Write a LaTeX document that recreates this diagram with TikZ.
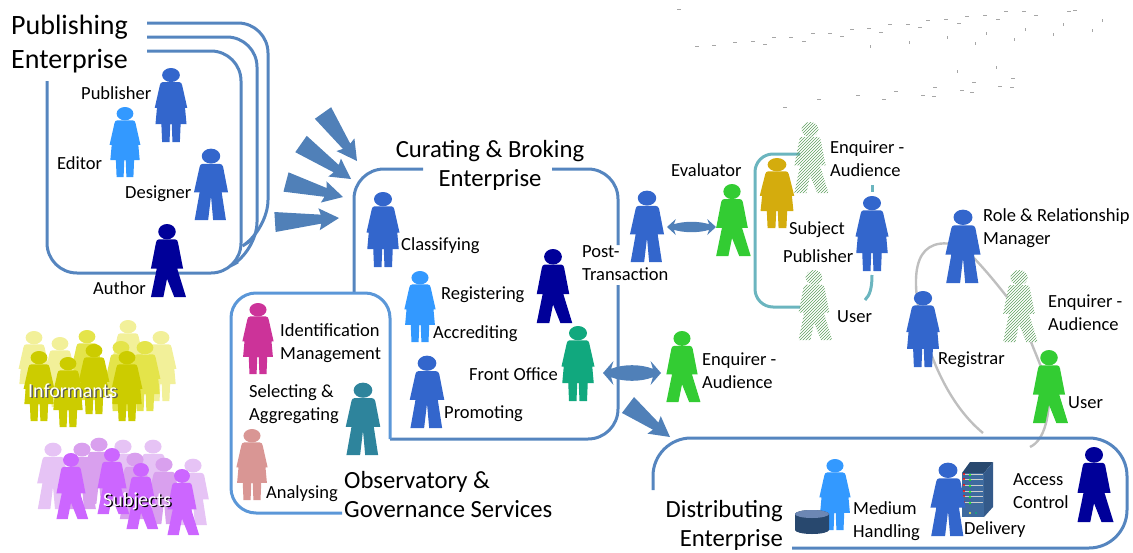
\documentclass[tikz,border=0pt]{standalone}
\usepackage{fontspec}
\setmainfont{Carlito}
\usetikzlibrary{calc,patterns,backgrounds}

\definecolor{figblue}{HTML}{3366CC}
\definecolor{figlight}{HTML}{3399FF}
\definecolor{fignavy}{HTML}{000099}
\definecolor{figgreen}{HTML}{33CC33}
\definecolor{figgold}{HTML}{D4AC0D}
\definecolor{figmagenta}{HTML}{CC3399}
\definecolor{figteal}{HTML}{2E849C}
\definecolor{figpink}{HTML}{D99694}
\definecolor{figsea}{HTML}{11A87E}
\definecolor{hatchgreen}{HTML}{5FA05F}
\definecolor{yellowa}{HTML}{F2F099}
\definecolor{yellowb}{HTML}{E4E44A}
\definecolor{yellowc}{HTML}{CCCC00}
\definecolor{purplea}{HTML}{E6C3F5}
\definecolor{purpleb}{HTML}{D9A0EE}
\definecolor{purplec}{HTML}{CC66FF}
\definecolor{frameblue}{HTML}{5585BF}
\definecolor{obsblue}{HTML}{5B97D8}
\definecolor{frameteal}{HTML}{6BB5BF}
\definecolor{curvegrey}{HTML}{BFBFBF}
\definecolor{wedgeblue}{HTML}{5080B8}
\definecolor{serverfront}{HTML}{3E6A9E}
\definecolor{serverside}{HTML}{345A8A}
\definecolor{servertop}{HTML}{28486E}

\tikzset{
  pics/woman/.style = {code = {
    \coordinate (-c) at (0,50);
    \path[#1] (0,9.5) ellipse [x radius=12, y radius=9.5];
    \path[#1] (-11,19) -- (11,19) to[out=0,in=100] (15,23) -- (22,54) -- (19,54) -- (21,76) -- (13,76) -- (12,100) -- (2,100) -- (1,76) -- (-1,76) -- (-2,100) -- (-12,100) -- (-13,76) -- (-21,76) -- (-19,54) -- (-22,54) -- (-15,23) to[out=80,in=180] cycle;
  }},
  pics/man/.style = {code = {
    \coordinate (-c) at (0,50);
    \path[#1] (0,10) ellipse [x radius=13, y radius=10.5];
    \path[#1] (-12,21) -- (12,21) to[out=0,in=100] (17,25) -- (24,61) -- (15,61) -- (21,100) -- (3,100) -- (0,66) -- (-4,100) -- (-23,100) -- (-16,61) -- (-24,61) -- (-16,25) to[out=80,in=180] cycle;
  }},
  pics/walker/.style = {code = {
    \coordinate (-c) at (0,50);
    \path[#1] (0,10.5) ellipse [x radius=12, y radius=10.5];
    \path[#1] (-11,21) -- (11,21) to[out=0,in=100] (15,25) -- (22,61) -- (14,61) -- (26,100) -- (10,100) -- (0,75) -- (-5,100) -- (-22,100) -- (-14,61) -- (-22,61) -- (-15,25) to[out=80,in=180] cycle;
  }},
  pics/lens/.style = {code = {
    \fill[wedgeblue] (0,0) -- (18,-1) -- (14,-.35) .. controls (35,-.75) and (65,-.75) .. (86,-.35) -- (82,-1) -- (100,0) -- (82,1) -- (86,.35) .. controls (65,.75) and (35,.75) .. (14,.35) -- (18,1) -- cycle;
  }},
  hatched/.style = {pattern=north east lines, pattern color=hatchgreen},
  lbl/.style = {anchor=base west, inner sep=0pt, align=left, font=\fontsize{18.5}{22.5}\selectfont},
  biglbl/.style = {inner sep=0pt, font=\fontsize{24.7}{29}\selectfont},
  grouplbl/.style = {anchor=base west, inner sep=0pt, font=\fontsize{20}{24}\selectfont},
  frame/.style = {draw=frameblue, line width=3pt, rounded corners=#1},
  frame/.default = 30pt,
  curve/.style = {draw=curvegrey, line width=2.4pt}
}

\newcommand{\wedgearrow}[2]{
  \fill[wedgeblue] ($(#1)!10pt!90:(#2)$) -- ($($(#2)!18pt!(#1)$)!4.5pt!-90:(#1)$) -- ($($(#2)!20pt!(#1)$)!11pt!-90:(#1)$) -- (#2) -- ($($(#2)!20pt!(#1)$)!11pt!90:(#1)$) -- ($($(#2)!18pt!(#1)$)!4.5pt!90:(#1)$) -- ($(#1)!10pt!-90:(#2)$) -- cycle;
}

\begin{document}
\begin{tikzpicture}[x=1pt, y=-1pt]
\useasboundingbox (0,0) rectangle (1133,552);

% scattered marks, top right
\foreach \x/\y in {677/9,695/46,712/45,733/42,751/41,763/44,772/37,789/37,802/41,811/33,828/33,840/36,850/29,867/28,879/32,888/24,906/24,918/27,926/20,944/19,957/23,965/16,983/15,996/19,1004/11,1022/11,1034/15,1067/11,1073/10,783/107,817/99,856/95,882/99,894/91,921/95,933/87,932/96,960/90,972/82,970/92,998/86,1011/78,1010/87}
  \draw[gray!70, line width=.7pt] (\x,\y) -- ++(4,0);
\foreach \x/\y in {870/45,909/41,947/36,975/42,986/32,1014/38,1025/28,1053/33,1063/23,1092/29,1102/19,957/70,996/66}
  \draw[gray!70, line width=.7pt] (\x,\y) -- ++(0,3);

% Publishing
\coordinate (pubA) at (147,23);
\coordinate (pubB) at (147,37);
\coordinate (pubC) at (147,51);
\coordinate (pubD) at (47,81);
\draw[frame] (pubA) -| (268,230) -- (252,240);
\draw[frame] (pubB) -| (257,252) -- (238,262);
\draw[frame] (pubC) -| (241,273) -| (pubD);
\pic (publisher) [scale=.74] at (171,68) {woman={fill=figblue}};
\pic (editor) [scale=.70] at (125,107) {woman={fill=figlight}};
\pic (designer) [scale=.71] at (211,149) {man={fill=figblue}};
\pic (author) [scale=.73] at (167,224) {walker={fill=fignavy}};
\node[lbl, font=\fontsize{28}{34}\selectfont] (publishing) at (11,68) {Publishing\\Enterprise};
\node[lbl] (publisherl) at (81,99) {Publisher};
\node[lbl] (editorl) at (57,169) {Editor};
\node[lbl] (designerl) at (125,198) {Designer};
\node[lbl] (authorl) at (93,294) {Author};

\coordinate (wedgeAs) at (275,222);
\coordinate (wedgeAe) at (339,218);
\coordinate (wedgeBs) at (286,182);
\coordinate (wedgeBe) at (343,197);
\coordinate (wedgeCs) at (301,144);
\coordinate (wedgeCe) at (351,179);
\coordinate (wedgeDs) at (323,113);
\coordinate (wedgeDe) at (357,161);
\wedgearrow{wedgeAs}{wedgeAe}
\wedgearrow{wedgeBs}{wedgeBe}
\wedgearrow{wedgeCs}{wedgeCe}
\wedgearrow{wedgeDs}{wedgeDe}

% Curating
\coordinate (curA) at (423,169);
\coordinate (curB) at (354,293);
\coordinate (curC) at (552,169);
\coordinate (curD) at (618,245);
\coordinate (curE) at (618,285);
\coordinate (curF) at (390,439);
\draw[frame] (curA) -| (curB);
\draw[frame] (curC) -| (curD);
\draw[frame] (curE) |- (curF);
\pic (classifying) [scale=.75] at (383,192) {woman={fill=figblue}};
\pic (registering) [scale=.71] at (420,271) {woman={fill=figlight}};
\pic (accrediting) [scale=.74] at (553,249) {walker={fill=fignavy}};
\pic (frontoffice) [scale=.75] at (578,326) {woman={fill=figsea}};
\pic (promoting) [scale=.72] at (427,356) {man={fill=figblue}};
\node[biglbl, anchor=base, align=center] (curating) at (490,186) {Curating \& Broking\\Enterprise};
\node[lbl] (classifyingl) at (401,250) {Classifying};
\node[lbl] (registeringl) at (441,299) {Registering};
\node[lbl] (accreditingl) at (433,338) {Accrediting};
\node[lbl] (frontofficel) at (469,380) {Front Office};
\node[lbl] (promotingl) at (444,418) {Promoting};

% Observatory
\coordinate (obsA) at (342,513);
\coordinate (obsB) at (390,439);
\draw[frame=25pt, draw=obsblue] (obsA) -| (231,293) -| (obsB);
\pic (identification) [scale=.71] at (258,303) {woman={fill=figmagenta}};
\pic (selecting) [scale=.72] at (363,383) {man={fill=figteal}};
\pic (analysing) [scale=.71] at (252,429) {woman={fill=figpink}};
\node[lbl] (identificationl) at (280,359) {Identification\\Management};
\node[lbl] (selectingl) at (249,420) {Selecting \&\\Aggregating};
\node[lbl] (analysingl) at (266,498) {Analysing};
\node[biglbl, anchor=base west, align=left] (observatory) at (344,517) {Observatory \&\\Governance Services};

% Post-transaction and evaluator
\pic (posttrans) [scale=.71] at (647,191) {man={fill=figblue}};
\pic (evaluator) [scale=.72] at (732,184) {walker={fill=figgreen}};
\pic (evalarrow) [xscale=.49, yscale=8] at (667,227) {lens};
\node[lbl] (posttransl) at (582,280) {Post-\\Transaction};
\node[lbl] (evaluatorl) at (671,176) {Evaluator};

% Subject box
\coordinate (subA) at (800,154);
\coordinate (subB) at (800,307);
\coordinate (subC) at (872,185);
\coordinate (subD) at (872,192);
\coordinate (subE) at (872,275);
\coordinate (subF) at (865,300);
\draw[frame=18pt, draw=frameteal] (subA) -| (755,307) -- (subB);
\draw[draw=frameteal, line width=3pt] (subC) -- (subD);
\draw[draw=frameteal, line width=3pt] (subE) .. controls (872,288) and (870,295) .. (subF);
\pic (enquirerh) [scale=.71] at (810,122) {walker=hatched};
\pic (userh) [scale=.70] at (814,270) {walker=hatched};
\pic (subject) [scale=.70, xscale=1.12] at (777,158) {woman={fill=figgold}};
\pic (subpublisher) [scale=.75] at (872,196) {woman={fill=figblue}};
\node[lbl] (enquirerhl) at (830,176) {Enquirer -\\Audience};
\node[lbl] (subjectl) at (789,234) {Subject};
\node[lbl] (subpublisherl) at (783,262) {Publisher};
\node[lbl] (userhl) at (837,322) {User};

% Role manager group
\pic (rolemgr) [scale=.73] at (963,210) {man={fill=figblue}};
\pic (registrar) [scale=.76] at (923,291) {woman={fill=figblue}};
\pic (enquirerr) [scale=.72] at (1019,270) {walker=hatched};
\pic (userr) [scale=.73] at (1049,350) {walker={fill=figgreen}};
\coordinate (curveA) at (1007,297);
\coordinate (curveB) at (1031,342);
\coordinate (curveC) at (983,433);
\coordinate (curveD) at (1030,447);
\begin{scope}[on background layer]
\path[curve] (rolemgr-c) .. controls (915,232) and (908,270) .. (registrar-c);
\path[curve] (rolemgr-c) to[bend left=3] (curveA);
\path[curve] (curveB) -- (userr-c);
\path[curve] (registrar-c) .. controls (935,372) and (955,410) .. (curveC);
\path[curve] (userr-c) .. controls (1050,415) and (1045,440) .. (curveD);
\end{scope}
\node[lbl] (rolemgrl) at (983,244) {Role \& Relationship\\Manager};
\node[lbl] (registrarl) at (938,364) {Registrar};
\node[lbl] (enquirerrl) at (1048,330) {Enquirer -\\Audience};
\node[lbl] (userrl) at (1068,408) {User};

% Front office enquirer
\pic (enquirerg) [scale=.71] at (682,331) {walker={fill=figgreen}};
\pic (frontarrow) [xscale=.58, yscale=12] at (603,373) {lens};
\node[lbl] (enquirergl) at (702,388) {Enquirer -\\Audience};
\coordinate (wedgeEs) at (628,405);
\coordinate (wedgeEe) at (670,437);
\wedgearrow{wedgeEs}{wedgeEe}

% Distributing
\coordinate (disA) at (653,490);
\coordinate (disB) at (792,548);
\draw[frame=38pt] (disA) |- (1127,438) |- (disB);
\pic (medium) [scale=.71] at (835,459) {woman={fill=figlight}};
\shade[left color=servertop, middle color=figblue!55!white, right color=servertop] (795,514) -- (795,530) arc [start angle=180, end angle=0, x radius=17, y radius=4] -- (829,514) arc [start angle=0, end angle=-180, x radius=17, y radius=4] -- cycle;
\fill[servertop!60!figblue!70!white] (812,514) ellipse [x radius=17, y radius=4];
\fill[serverfront] (962,473) rectangle (984,517);
\fill[servertop] (962,473) -- (970,462) -- (993,462) -- (984,473) -- cycle;
\fill[serverside] (984,473) -- (993,462) -- (993,507) -- (984,517) -- cycle;
\foreach \y in {474,479,485,491,496,502} {
  \draw[white!80!black, line width=.8pt] (963,\y) -- (983,\y);
  \fill[red] (964,\y) circle [radius=1.1];
  \fill[green] (970,\y+1) circle [radius=1.1];
}
\fill[yellow!70!white] (970,513) circle [radius=1.2];
\fill[figsea] (976,513) circle [radius=1.2];
\pic (delivery) [scale=.73] at (948,463) {man={fill=figblue}};
\pic (access) [scale=.75] at (1094,447) {walker={fill=fignavy}};
\node[biglbl, anchor=base east, align=right] (distributing) at (783,546) {Distributing\\Enterprise};
\node[lbl] (mediuml) at (853,537) {Medium\\Handling};
\node[lbl] (deliveryl) at (964,534) {Delivery};
\node[lbl] (accessl) at (1013,508) {Access\\Control};

% Informants
\foreach \x/\y in {34/331,60/337,128/320,161/331}
  \pic at (\x,\y) [scale=.7] {woman={fill=yellowa}};
\foreach \x/\y in {87/330,121/341,145/341}
  \pic at (\x,\y) [scale=.7] {woman={fill=yellowb}};
\foreach \x/\y in {39/351,68/357,94/344,127/351}
  \pic at (\x,\y) [scale=.7] {woman={fill=yellowc}};
\node[grouplbl, text=gray!70!black] (informantsb) at (29.5,398.5) {Informants};
\node[grouplbl, text=white] (informants) at (28,397) {Informants};

% Subjects
\foreach \x/\y in {53/443,123/440,153/440,193/459}
  \pic at (\x,\y) [scale=.66] {man={fill=purplea}};
\foreach \x/\y in {82/443,99/438,135/453,164/458}
  \pic at (\x,\y) [scale=.66] {man={fill=purpleb}};
\foreach \x/\y in {71/453,112/448,141/463,182/469}
  \pic at (\x,\y) [scale=.66] {walker={fill=purplec}};
\node[grouplbl, text=black] (subjectsb) at (104.5,507.5) {Subjects};
\node[grouplbl, text=white] (subjects) at (103,506) {Subjects};
\end{tikzpicture}
\end{document}
